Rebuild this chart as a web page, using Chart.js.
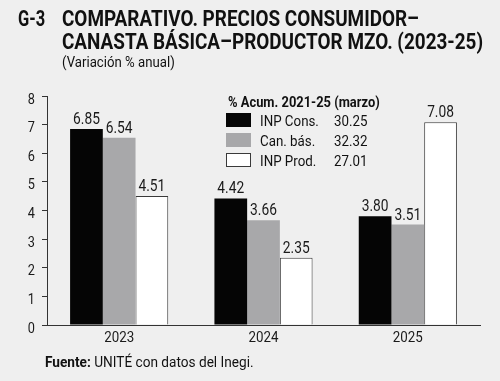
<!DOCTYPE html>
<html><head><meta charset="utf-8">
<script src="https://cdn.jsdelivr.net/npm/chart.js@4.4.1/dist/chart.umd.min.js"></script>
<style>
html,body{margin:0;padding:0;}
body{background:#efefef;width:500px;height:381px;overflow:hidden;position:relative;font-family:Roboto,"Liberation Sans",sans-serif;color:#111;}
.t{position:absolute;white-space:nowrap;transform-origin:0 0;}
canvas{position:absolute;left:0;top:0;}
</style></head><body>
<canvas id="c" width="500" height="381"></canvas>
<div class="t" id="g3" style="left:18px;top:7px;font-weight:bold;font-size:22px;line-height:23px;">G-3</div>
<div class="t" id="title" style="left:62px;top:7px;font-weight:bold;font-size:22px;line-height:23px;"></div>
<div class="t" id="sub" style="left:62px;top:55px;font-size:14.5px;line-height:15px;"></div>
<div class="t" id="foot" style="left:45px;top:355px;font-size:15px;line-height:15px;"></div>
<script>
const titleLines = ['COMPARATIVO. PRECIOS CONSUMIDOR–', 'CANASTA BÁSICA–PRODUCTOR MZO. (2023-25)'];
const subtitle = '(Variación % anual)';
const sourceLabel = 'Fuente:';
const sourceText = 'UNITÉ con datos del Inegi.';
const categories = ['2023', '2024', '2025'];
const seriesNames = ['INP Cons.', 'Can. bás.', 'INP Prod.'];
const inpCons = [6.85, 4.42, 3.80];
const canastaBasica = [6.54, 3.66, 3.51];
const inpProd = [4.51, 2.35, 7.08];
const legendTitle = '% Acum. 2021-25 (marzo)';
const acumValues = ['30.25', '32.32', '27.01'];
const yTickValues = [0, 1, 2, 3, 4, 5, 6, 7, 8];

document.getElementById('title').innerHTML = titleLines.join('<br>');
document.getElementById('sub').textContent = subtitle;
const foot = document.getElementById('foot');
const b = document.createElement('b'); b.textContent = sourceLabel;
foot.appendChild(b); foot.appendChild(document.createTextNode(' ' + sourceText));

function fitWidth(id, target){
  const el = document.getElementById(id);
  const w = el.scrollWidth;
  el.style.transform = 'scaleX(' + (target / w) + ')';
}
fitWidth('g3', 27);
fitWidth('title', 421);
fitWidth('sub', 113);
fitWidth('foot', 209);

function condText(ctx, text, x, y, font, sx, align){
  ctx.save();
  ctx.font = font;
  ctx.translate(x, y);
  ctx.scale(sx, 1);
  ctx.textAlign = align || 'left';
  ctx.fillText(text, 0, 0);
  ctx.restore();
}

const valueLabels = {
  id: 'valueLabels',
  afterDatasetsDraw(chart){
    const ctx = chart.ctx;
    ctx.save();
    ctx.fillStyle = '#1a1a1a';
    ctx.textBaseline = 'alphabetic';
    chart.data.datasets.forEach((ds, i) => {
      const meta = chart.getDatasetMeta(i);
      meta.data.forEach((el, j) => {
        condText(ctx, ds.data[j].toFixed(2), el.x, el.y - 5, '16px Roboto', 0.86, 'center');
      });
    });
    ctx.restore();
  }
};

const axisLabels = {
  id: 'axisLabels',
  afterDraw(chart){
    const ctx = chart.ctx;
    const xs = chart.scales.x, ys = chart.scales.y;
    ctx.save();
    ctx.fillStyle = '#1a1a1a';
    ctx.textBaseline = 'alphabetic';
    yTickValues.forEach(v => {
      condText(ctx, String(v), ys.right - 12, ys.getPixelForValue(v) + 7.5, '15.5px Roboto', 0.82, 'right');
    });
    categories.forEach((c, i) => {
      condText(ctx, c, xs.getPixelForValue(i), xs.top + 17, '15.5px Roboto', 0.86, 'center');
    });
    ctx.restore();
  }
};

const acumLegend = {
  id: 'acumLegend',
  afterDraw(chart){
    const ctx = chart.ctx;
    ctx.save();
    ctx.fillStyle = '#111';
    condText(ctx, legendTitle, 228, 107, 'bold 15px Roboto', 0.86);
    chart.data.datasets.forEach((ds, i) => {
      const y = 113 + i * 20;
      ctx.fillStyle = ds.backgroundColor;
      ctx.fillRect(226, y, 25, 14);
      if (ds.borderWidth) {
        ctx.strokeStyle = ds.borderColor; ctx.lineWidth = 1;
        ctx.strokeRect(226.5, y + 0.5, 24, 13);
      }
      ctx.fillStyle = '#111';
      condText(ctx, ds.label, 260, y + 13, '15.5px Roboto', 0.86);
      condText(ctx, acumValues[i], 334, y + 13, '15.5px Roboto', 0.86);
    });
    ctx.restore();
  }
};

new Chart(document.getElementById('c'), {
  type: 'bar',
  data: {
    labels: categories,
    datasets: [
      { label: seriesNames[0], data: inpCons, backgroundColor: '#050505', borderWidth: 0 },
      { label: seriesNames[1], data: canastaBasica, backgroundColor: '#a8a8aa', borderWidth: 0 },
      { label: seriesNames[2], data: inpProd, backgroundColor: '#ffffff', borderColor: '#3a3a3a', borderWidth: 1 }
    ]
  },
  options: {
    responsive: false,
    animation: false,
    devicePixelRatio: 1,
    layout: { padding: { top: 96, right: 20, bottom: 0, left: 0 } },
    datasets: { bar: { categoryPercentage: 0.68, barPercentage: 1 } },
    plugins: { legend: { display: false }, tooltip: { enabled: false } },
    scales: {
      x: {
        grid: { display: false, drawTicks: false },
        border: { display: true, color: '#333', width: 1 },
        ticks: { display: false },
        afterFit(s){ s.height = 56; }
      },
      y: {
        min: 0, max: 8,
        afterBuildTicks(s){ s.ticks = yTickValues.map(v => ({ value: v })); },
        ticks: { display: false },
        grid: { drawOnChartArea: false, drawTicks: true, tickLength: 5, color: '#333' },
        border: { color: '#333', width: 1 },
        afterFit(s){ s.width = 47; }
      }
    }
  },
  plugins: [valueLabels, axisLabels, acumLegend]
});
</script>
</body></html>
